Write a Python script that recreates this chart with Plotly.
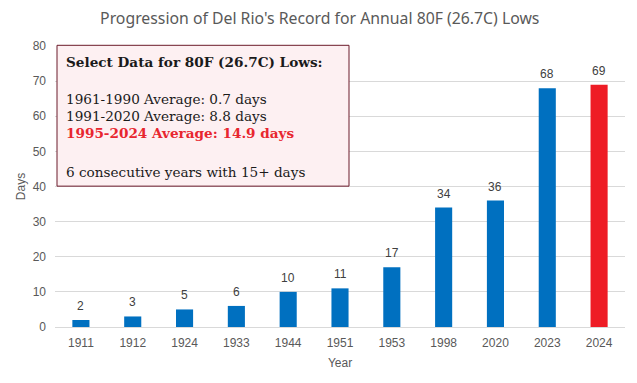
import plotly.graph_objects as go

years = ["1911", "1912", "1924", "1933", "1944", "1951", "1953", "1998", "2020", "2023", "2024"]
days = [2, 3, 5, 6, 10, 11, 17, 34, 36, 68, 69]
bar_colors = ["#0070C0"] * 10 + ["#EE1C25"]

title_text = "Progression of Del Rio's Record for Annual 80F (26.7C) Lows"
box_lines = [
    ("<b>Select Data for 80F (26.7C) Lows:</b>", "#1A1A1A", 62),
    ("1961-1990 Average: 0.7 days", "#1A1A1A", 99),
    ("1991-2020 Average: 8.8 days", "#1A1A1A", 116),
    ("<b>1995-2024 Average: 14.9 days</b>", "#E8262F", 133),
    ("6 consecutive years with 15+ days", "#1A1A1A", 172),
]

NARROW = "Liberation Sans Narrow, Arial Narrow, sans-serif"
L, R, T, B = 55, 625, 45.7, 327
W, H = 637, 383

fig = go.Figure()
fig.add_trace(go.Bar(
    x=years, y=days, marker=dict(color=bar_colors, line=dict(width=0)),
    hoverinfo="x+y",
))

# data labels: category axis positions are category indices
for i, d in enumerate(days):
    fig.add_annotation(x=i, y=d, text=str(d), showarrow=False, yanchor="bottom",
                       yshift=5, font=dict(family=NARROW, size=12, color="#404040"))

fig.update_layout(
    width=W, height=H,
    margin=dict(l=L, r=W - R, t=T, b=H - B),
    paper_bgcolor="white", plot_bgcolor="white",
    bargap=0.67,
    showlegend=False,
    title=dict(text=title_text, x=0.502, xanchor="center", y=1 - 18 / H, yanchor="middle",
               font=dict(family="Noto Sans, sans-serif", size=15.8, color="#595959")),
    xaxis=dict(type="category", categoryorder="array", categoryarray=years,
               range=[-0.5, len(years) - 0.5],
               showgrid=False, showline=True, linecolor="#D9D9D9", linewidth=1,
               ticks="", ticklabelstandoff=5,
               tickfont=dict(family=NARROW, size=12, color="#595959"),
               title=dict(text="Year", standoff=9, font=dict(family=NARROW, size=12, color="#595959"))),
    yaxis=dict(range=[0, 80], dtick=10, showgrid=True, gridcolor="#D9D9D9", gridwidth=1,
               zeroline=False, showline=False, ticks="", ticklabelstandoff=8,
               tickfont=dict(family=NARROW, size=12, color="#595959"),
               title=dict(text="Days", standoff=4, font=dict(family=NARROW, size=12, color="#595959"))),
)

pw, ph = R - L, B - T
fig.add_shape(type="rect", xref="paper", yref="paper",
              x0=(57 - L) / pw, x1=(349 - L) / pw,
              y0=(B - 186) / ph, y1=(B - 45) / ph,
              fillcolor="#FDF0F2", line=dict(color="#6B1A2A", width=1), layer="above")

for txt, col, yc in box_lines:
    fig.add_annotation(xref="paper", yref="paper", x=(64 - L) / pw, y=(B - yc) / ph,
                       xanchor="left", yanchor="middle", align="left", showarrow=False,
                       text=txt, font=dict(family="DejaVu Serif, serif", size=13.6, color=col))

fig.write_html("out.html", post_script="document.body.style.margin='0';",
               config={"displayModeBar": False})
